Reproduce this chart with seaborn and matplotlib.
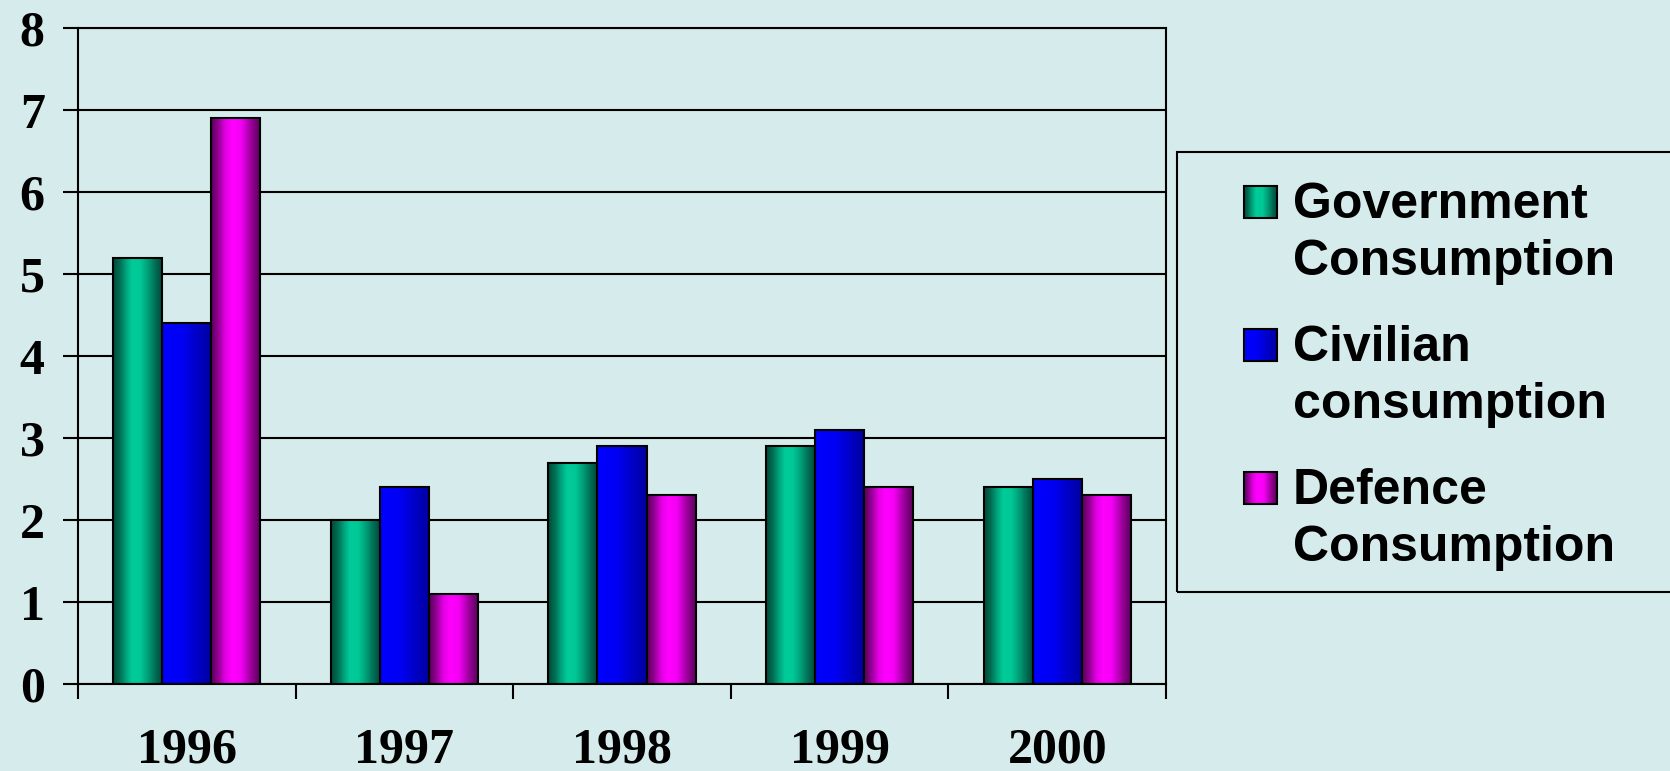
import numpy as np
import pandas as pd
import matplotlib
matplotlib.use('Agg')
import matplotlib.pyplot as plt
import seaborn as sns
from matplotlib.colors import LinearSegmentedColormap, to_rgb
from matplotlib.patches import Rectangle
from matplotlib.legend_handler import HandlerBase
from matplotlib.font_manager import FontProperties

# ---------------- data ----------------
years = ['1996', '1997', '1998', '1999', '2000']
government = [5.2, 2.0, 2.7, 2.9, 2.4]
civilian = [4.4, 2.4, 2.9, 3.1, 2.5]
defence = [6.9, 1.1, 2.3, 2.4, 2.3]
series_labels = ['Government\nConsumption', 'Civilian\nconsumption', 'Defence\nConsumption']
y_ticks = [0, 1, 2, 3, 4, 5, 6, 7, 8]

# ---------------- styles ----------------
BG = '#D6EBEB'
base_colors = ['#00C896', '#0000E6', '#FF00FF']
grad_stops = [
    [(0.0, '#004a38'), (0.12, '#006a50'), (0.25, '#00a07a'), (0.38, '#00cc99'),
     (0.55, '#00c896'), (0.72, '#009a74'), (0.88, '#006650'), (1.0, '#004a38')],
    [(0.0, '#0000ff'), (0.4, '#0000f4'), (0.7, '#0000c8'), (1.0, '#0000a0')],
    [(0.0, '#5a005a'), (0.12, '#8a008a'), (0.28, '#e000e0'), (0.42, '#ff00ff'),
     (0.6, '#f500f5'), (0.78, '#a800a8'), (0.9, '#780078'), (1.0, '#5a005a')],
]
cmaps = [LinearSegmentedColormap.from_list(f'g{i}', s) for i, s in enumerate(grad_stops)]

df = pd.DataFrame({
    'year': years * 3,
    'value': government + civilian + defence,
    'series': np.repeat(series_labels, len(years)),
})

W, H = 1670, 771
fig = plt.figure(figsize=(W / 100, H / 100), dpi=100, facecolor=BG)
ax = fig.add_axes([78 / W, (H - 684) / H, (1166 - 78) / W, (684 - 28) / H])
ax.set_facecolor(BG)

sns.barplot(data=df, x='year', y='value', hue='series', hue_order=series_labels,
            palette=base_colors, width=0.676, gap=0, saturation=1,
            edgecolor='black', linewidth=1.5, errorbar=None, legend=False, ax=ax)

# gradient fill of every bar, clipped to the seaborn bar
base_rgb = np.array([to_rgb(c) for c in base_colors])
for p in list(ax.patches):
    fc = np.array(p.get_facecolor()[:3])
    idx = int(np.argmin(((base_rgb - fc) ** 2).sum(axis=1)))
    x0, w, h = p.get_x(), p.get_width(), p.get_height()
    grad = cmaps[idx](np.linspace(0, 1, 64))[None, :, :3]
    im = ax.imshow(grad, extent=[x0, x0 + w, 0, h], aspect='auto',
                   interpolation='bilinear', zorder=1.5)
    im.set_clip_path(p)
    p.set_facecolor('none')
    p.set_zorder(2)

ax.set_xlim(-0.5, len(years) - 0.5)
ax.set_ylim(0, 8)
ax.set_yticks(y_ticks)
ax.set_xticks(range(len(years)))
ax.set_xticklabels(years)
ax.set_xticks(np.arange(-0.5, len(years), 1.0), minor=True)
ax.set_xlabel('')
ax.set_ylabel('')

ax.set_axisbelow(True)
ax.yaxis.grid(True, color='black', linewidth=1.5)
ax.xaxis.grid(False)
for s in ax.spines.values():
    s.set_visible(True)
    s.set_color('black')
    s.set_linewidth(1.5)

ax.tick_params(axis='y', length=11, width=1.5, direction='out', pad=13, colors='black')
ax.tick_params(axis='x', which='major', length=0, pad=31.5, colors='black')
ax.tick_params(axis='x', which='minor', length=11, width=1.5, direction='out', colors='black')
for lbl in ax.get_xticklabels() + ax.get_yticklabels():
    lbl.set_fontfamily('Liberation Serif')
    lbl.set_fontweight('bold')
    lbl.set_fontsize(36)


# ---------------- legend ----------------
class GradHandler(HandlerBase):
    def __init__(self, cmap, shift):
        super().__init__()
        self.cmap = cmap
        self.shift = shift

    def create_artists(self, legend, orig_handle, xdescent, ydescent, width, height, fontsize, trans):
        n = 32
        y0 = -ydescent + self.shift * fontsize
        arts = []
        for i in range(n):
            r = Rectangle((-xdescent + width * i / n, y0), width / n * 1.05, height,
                          facecolor=self.cmap((i + 0.5) / n), edgecolor='none', transform=trans)
            arts.append(r)
        arts.append(Rectangle((-xdescent, y0), width, height, facecolor='none',
                              edgecolor='black', linewidth=1.5, transform=trans))
        return arts


LFS = 36
handles = [Rectangle((0, 0), 1, 1) for _ in series_labels]
hmap = {h: GradHandler(cm, 0.64) for h, cm in zip(handles, cmaps)}
leg_font = FontProperties(family='Liberation Sans', weight='bold', size=LFS)
leg = fig.legend(handles, series_labels, handler_map=hmap, loc='upper left',
                 bbox_to_anchor=(1244 / W, (H - 182) / H), bbox_transform=fig.transFigure,
                 frameon=False, borderpad=0, borderaxespad=0, prop=leg_font,
                 handlelength=0.66, handleheight=0.62, handletextpad=0.32, labelspacing=0.8)
for t in leg.get_texts():
    t.set_linespacing(1.31)

fig.patches.append(Rectangle((1177 / W, (H - 592) / H), (1720 - 1177) / W, (592 - 152) / H,
                             transform=fig.transFigure, fill=False, edgecolor='black',
                             linewidth=1.5))

fig.savefig('out.png', dpi=100, facecolor=BG)
